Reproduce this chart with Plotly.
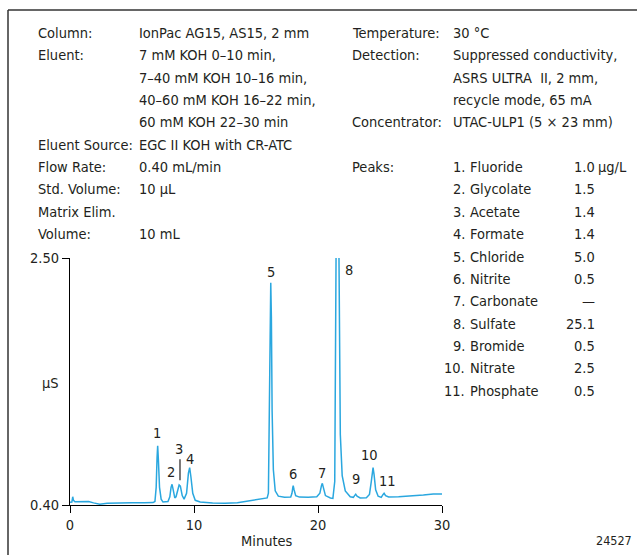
import plotly.graph_objects as go

# ---- data ----
time_min = [0.0, 0.15, 0.22, 0.28, 0.4, 1.0, 1.5, 1.9, 2.4, 3.0, 4.0, 5.0, 6.0, 6.7,
            6.85, 6.95, 7.02, 7.07, 7.13, 7.22, 7.35, 7.5, 7.9,
            8.05, 8.15, 8.23, 8.32, 8.45,
            8.55, 8.7, 8.8, 8.9, 9.05, 9.2,
            9.4, 9.55, 9.65, 9.75, 9.9, 10.1, 10.5, 11.5, 12.5, 13.5, 14.5, 15.5, 15.9,
            16.0, 16.08, 16.15, 16.19, 16.24, 16.3, 16.4, 16.55, 16.8, 17.3, 17.8,
            17.9, 17.97, 18.0, 18.07, 18.2, 18.5, 19.2, 19.9,
            20.15, 20.28, 20.35, 20.43, 20.6, 21.0, 21.2,
            21.35, 21.42, 21.48, 21.55, 21.62, 21.7, 21.8, 21.95, 22.2, 22.6, 22.85,
            22.95, 23.04, 23.15, 23.4, 23.9, 24.15,
            24.3, 24.38, 24.44, 24.52, 24.65, 24.85, 25.1,
            25.25, 25.33, 25.45, 25.7, 26.5, 27.5, 28.5, 29.3, 30.0]
signal_uS = [0.423, 0.425, 0.47, 0.44, 0.428, 0.428, 0.43, 0.418, 0.407, 0.415, 0.42, 0.42, 0.42, 0.421,
             0.43, 0.55, 0.80, 0.904, 0.78, 0.55, 0.45, 0.425, 0.43,
             0.47, 0.55, 0.576, 0.53, 0.46,
             0.47, 0.54, 0.57, 0.56, 0.48, 0.45,
             0.50, 0.67, 0.717, 0.64, 0.50, 0.44, 0.425, 0.418, 0.415, 0.42, 0.435, 0.45, 0.46,
             0.50, 1.2, 2.1, 2.29, 2.0, 1.2, 0.7, 0.52, 0.475, 0.465, 0.468,
             0.50, 0.55, 0.564, 0.53, 0.48, 0.467, 0.465, 0.47,
             0.50, 0.565, 0.584, 0.55, 0.48, 0.46, 0.457,
             0.6, 1.8, 3.5, 4.2, 3.5, 2.0, 1.0, 0.65, 0.52, 0.47, 0.465,
             0.48, 0.491, 0.475, 0.46, 0.462, 0.49,
             0.60, 0.70, 0.717, 0.66, 0.53, 0.475, 0.465,
             0.49, 0.50, 0.48, 0.468, 0.47, 0.475, 0.485, 0.493, 0.494]

peak_labels = ["1", "2", "3", "4", "5", "6", "7", "8", "9", "10", "11"]
label_time = [6.99, 8.12, 8.77, 9.65, 16.19, 17.96, 20.3, 22.48, 23.04, 24.17, 25.6]
label_signal = [1.01, 0.68, 0.876, 0.79, 2.38, 0.66, 0.67, 2.40, 0.62, 0.825, 0.60]

x_ticks = [0, 10, 20, 30]
y_ticks = [0.40, 2.50]
y_tick_text = ["0.40", "2.50"]

left_labels = ["Column:", "Eluent:", "", "", "", "Eluent Source:", "Flow Rate:",
               "Std. Volume:", "Matrix Elim.", "Volume:"]
left_values = ["IonPac AG15, AS15, 2 mm", "7 mM KOH 0–10 min,", "7–40 mM KOH 10–16 min,",
               "40–60 mM KOH 16–22 min,", "60 mM KOH 22–30 min", "EGC II KOH with CR-ATC",
               "0.40 mL/min", "10 µL", "", "10 mL"]
right_labels = ["Temperature:", "Detection:", "", "", "Concentrator:", "", "Peaks:"]
right_values = ["30 °C", "Suppressed conductivity,", "ASRS ULTRA  II, 2 mm,",
                "recycle mode, 65 mA", "UTAC-ULP1 (5 × 23 mm)", "", ""]
peak_names = ["Fluoride", "Glycolate", "Acetate", "Formate", "Chloride", "Nitrite",
              "Carbonate", "Sulfate", "Bromide", "Nitrate", "Phosphate"]
peak_conc = ["1.0", "1.5", "1.4", "1.4", "5.0", "0.5", "—", "25.1", "0.5", "2.5", "0.5"]
conc_unit = "µg/L"

# ---- layout geometry (pixels) ----
W, H = 637, 555
PL, PR, PT, PB = 70, 442, 258, 505
FONT = "DejaVu Sans Condensed, Liberation Sans Narrow, Arial Narrow, sans-serif"
TXT = "#231f20"
FS = 14.5


def px(xp):
    return (xp - PL) / (PR - PL)


def py(yp):
    return (PB - yp) / (PB - PT)


fig = go.Figure()
fig.add_trace(go.Scatter(x=time_min, y=signal_uS, mode="lines",
                         line=dict(color="#2aa7df", width=1.5), hoverinfo="skip"))

ann = []
for lab, t, v in zip(peak_labels, label_time, label_signal):
    ann.append(dict(x=t, y=v, xref="x", yref="y", text=lab, showarrow=False,
                    font=dict(family=FONT, size=FS, color=TXT), xanchor="center", yanchor="middle"))

LINE = 22.35
y0 = 33
for i, (a, b) in enumerate(zip(left_labels, left_values)):
    yy = py(y0 + i * LINE)
    if a:
        ann.append(dict(x=px(36), y=yy, xref="paper", yref="paper", text=a, showarrow=False,
                        font=dict(family=FONT, size=FS, color=TXT), xanchor="left", yanchor="middle"))
    if b:
        ann.append(dict(x=px(137), y=yy, xref="paper", yref="paper", text=b, showarrow=False,
                        font=dict(family=FONT, size=FS, color=TXT), xanchor="left", yanchor="middle"))
for i, (a, b) in enumerate(zip(right_labels, right_values)):
    yy = py(y0 + i * LINE)
    if a:
        ann.append(dict(x=px(350), y=yy, xref="paper", yref="paper", text=a, showarrow=False,
                        font=dict(family=FONT, size=FS, color=TXT), xanchor="left", yanchor="middle"))
    if b:
        ann.append(dict(x=px(451), y=yy, xref="paper", yref="paper", text=b, showarrow=False,
                        font=dict(family=FONT, size=FS, color=TXT), xanchor="left", yanchor="middle"))
for i, (n, c) in enumerate(zip(peak_names, peak_conc)):
    yy = py(y0 + (6 + i) * LINE)
    ann.append(dict(x=px(466.5), y=yy, xref="paper", yref="paper", text=f"{i + 1}.", showarrow=False,
                    font=dict(family=FONT, size=FS, color=TXT), xanchor="right", yanchor="middle"))
    ann.append(dict(x=px(468), y=yy, xref="paper", yref="paper", text=n, showarrow=False,
                    font=dict(family=FONT, size=FS, color=TXT), xanchor="left", yanchor="middle"))
    ann.append(dict(x=px(597), y=yy, xref="paper", yref="paper", text=c, showarrow=False,
                    font=dict(family=FONT, size=FS, color=TXT), xanchor="right", yanchor="middle"))
    if i == 0:
        ann.append(dict(x=px(596), y=yy, xref="paper", yref="paper", text=conc_unit, showarrow=False,
                        font=dict(family=FONT, size=FS, color=TXT), xanchor="left", yanchor="middle"))

ann.append(dict(x=px(267), y=py(541), xref="paper", yref="paper", text="Minutes", showarrow=False,
                font=dict(family=FONT, size=FS, color=TXT), xanchor="center", yanchor="middle"))
ann.append(dict(x=px(50), y=py(383), xref="paper", yref="paper", text="µS", showarrow=False,
                font=dict(family=FONT, size=FS, color=TXT), xanchor="center", yanchor="middle"))
ann.append(dict(x=px(634), y=py(540), xref="paper", yref="paper", text="24527", showarrow=False,
                font=dict(family=FONT, size=12.5, color=TXT), xanchor="right", yanchor="middle"))

shapes = [
    dict(type="line", xref="paper", yref="paper", x0=px(8), x1=px(8), y0=py(10), y1=py(556),
         line=dict(color="#333333", width=1.5)),
    dict(type="line", xref="paper", yref="paper", x0=px(8), x1=px(640), y0=py(10), y1=py(10),
         line=dict(color="#333333", width=1.5)),
    dict(type="line", xref="x", yref="y", x0=8.87, x1=8.87, y0=0.61, y1=0.79,
         line=dict(color=TXT, width=1.2)),
]

fig.update_layout(
    width=W, height=H, margin=dict(l=PL, r=W - PR, t=PT, b=H - PB, pad=0),
    paper_bgcolor="white", plot_bgcolor="white", showlegend=False,
    annotations=ann, shapes=shapes,
    font=dict(family=FONT, size=FS, color=TXT),
    xaxis=dict(range=[0, 30], tickvals=x_ticks, ticks="outside", ticklen=7, tickwidth=1,
               tickcolor="black", showline=True, linecolor="black", linewidth=1,
               showgrid=False, zeroline=False, fixedrange=True),
    yaxis=dict(range=[0.40, 2.50], tickvals=y_ticks, ticktext=y_tick_text, ticks="outside",
               ticklen=7, tickwidth=1, tickcolor="black", showline=True, linecolor="black",
               linewidth=1, showgrid=False, zeroline=False, fixedrange=True),
)

fig.write_html("out.html", config={"displayModeBar": False},
               post_script="document.body.style.margin='0px';document.body.style.overflow='hidden';")
